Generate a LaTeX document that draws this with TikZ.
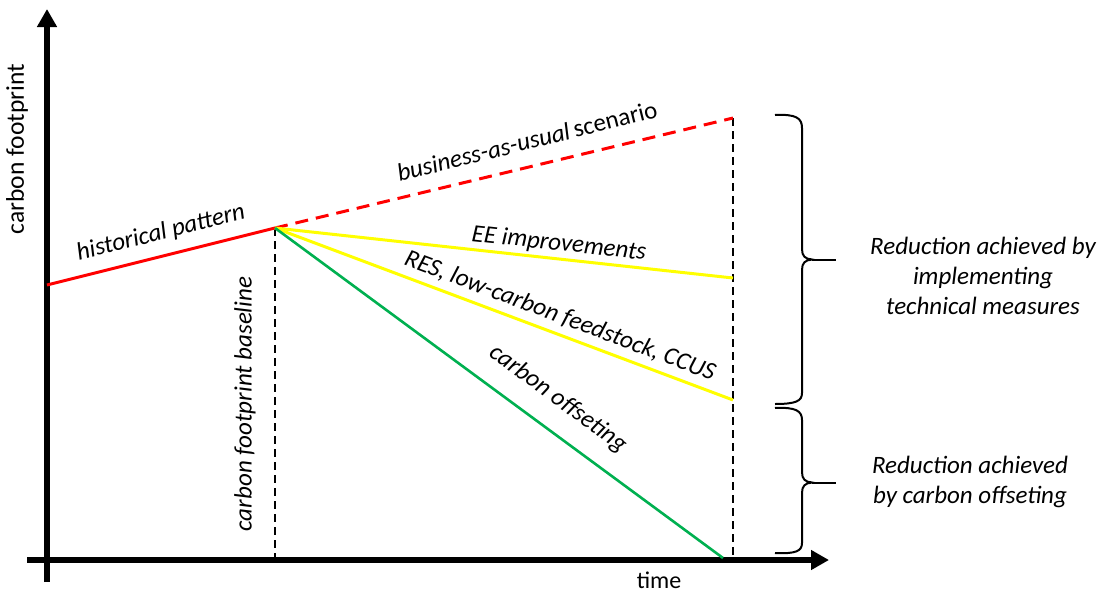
\documentclass[tikz,border=0pt]{standalone}
\usepackage{fontspec}
\setmainfont{Carlito}
\usetikzlibrary{arrows.meta}
\definecolor{offgreen}{RGB}{0,176,80}
\definecolor{ylw}{RGB}{255,255,0}
\tikzset{
  axis/.style={line width=6pt,-{Triangle[length=18pt,width=19pt]}},
  histline/.style={line width=3pt,red},
  bauline/.style={line width=3pt,red,dash pattern=on 13pt off 8pt},
  ylwline/.style={line width=3pt,ylw},
  grnline/.style={line width=2.6pt,offgreen},
  guide/.style={line width=1.5pt,black,dash pattern=on 8pt off 5pt},
  brace/.style={line width=2pt,black},
  lbl/.style={font=\fontsize{25}{30}\selectfont\itshape,inner sep=0pt},
  axlbl/.style={font=\fontsize{25.5}{30}\selectfont,inner sep=0pt},
  side/.style={font=\fontsize{25}{30}\selectfont\itshape,align=center,inner sep=0pt},
}
\begin{document}
\begin{tikzpicture}[x=1pt,y=-1pt]
\useasboundingbox (0,0) rectangle (1104,592);
% key points
\coordinate (ybot) at (47,582);
\coordinate (ytop) at (47,9);
\coordinate (xleft) at (27,560);
\coordinate (xright) at (829,560);
\coordinate (start) at (47,285);
\coordinate (base) at (275,228);
\coordinate (bau) at (733,118);
\coordinate (ee) at (733,278);
\coordinate (res) at (733,400);
\coordinate (off) at (723,558);
\coordinate (baseaxis) at (275,560);
\coordinate (endaxis) at (733,560);
% guides
\draw[guide] (base) -- (baseaxis);
\draw[guide] (bau) -- (endaxis);
% axes
\draw[axis] (ybot) -- (ytop);
\draw[axis] (xleft) -- (xright);
% lines
\draw[histline] (start) -- (base);
\draw[bauline] (base) -- (bau);
\draw[ylwline] (base) -- (ee);
\draw[ylwline] (base) -- (res);
\draw[grnline] (base) -- (off);
% braces
\draw[brace] (775,115) .. controls (796,114) and (802,118) .. (802,128) -- (802,249)
  .. controls (802,256) and (805,259) .. (812,259.5)
  .. controls (805,260) and (802,263) .. (802,270) -- (802,393)
  .. controls (802,401) and (796,404) .. (775,404);
\draw[brace] (812,259.5) -- (836,259.5);
\draw[brace] (775,408) .. controls (796,407) and (802,411) .. (802,420) -- (802,472)
  .. controls (802,479) and (805,482) .. (812,482.5)
  .. controls (805,483) and (802,486) .. (802,493) -- (802,543)
  .. controls (802,551) and (796,554) .. (775,553);
\draw[brace] (812,482.5) -- (836,482.5);
% labels
\node[axlbl,rotate=90] (ylab) at (17,149) {carbon footprint};
\node[axlbl,font=\fontsize{24}{28}\selectfont] (xlab) at (659,580) {time};
\node[lbl,rotate=14] (hist) at (161,233) {historical pattern};
\node[lbl,rotate=14] (baulab) at (527,141) {business-as-usual\,{\upshape scenario}};
\node[lbl,rotate=-6.2] (eelab) at (559,244) {EE improvements};
\node[lbl,rotate=-20.6] (reslab) at (560,316) {RES, low-carbon feedstock, CCUS};
\node[lbl,rotate=-36.4] (offlab) at (558,399) {carbon offseting};
\node[lbl,rotate=90] (baselab) at (245,404) {carbon footprint baseline};
\node[side] (tech) at (983,276) {Reduction achieved by\\implementing\\technical measures};
\node[side] (offs) at (970,482) {Reduction achieved\\by carbon offseting};
\end{tikzpicture}
\end{document}
